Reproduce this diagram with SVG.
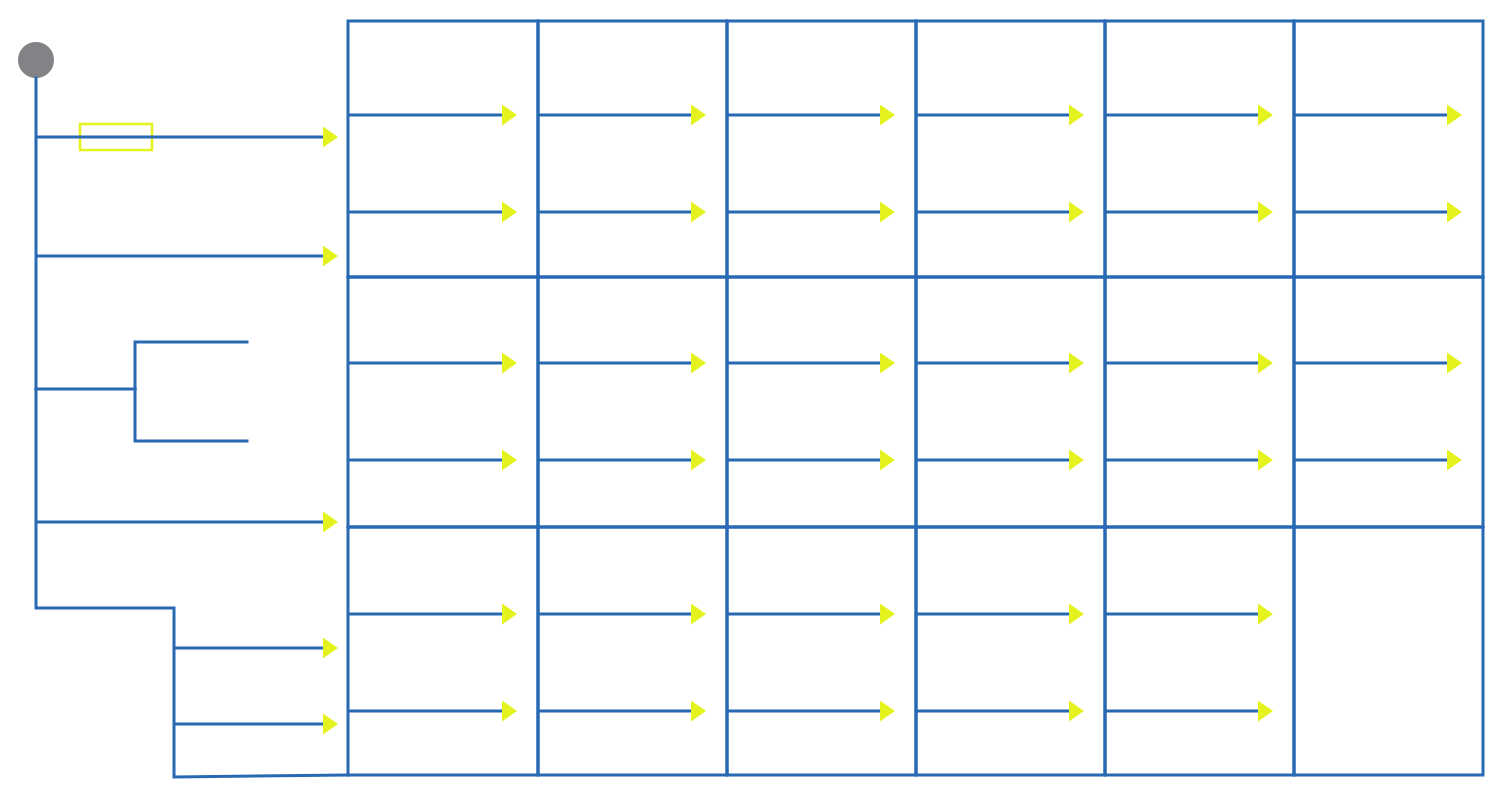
<svg xmlns="http://www.w3.org/2000/svg" width="1500" height="800" viewBox="0 0 1500 800">
<defs>
<style>
.ln{stroke:#2869B3;stroke-width:3;fill:none;stroke-linecap:square}
.cell{stroke:#2869B3;stroke-width:3;fill:none}
.arr{stroke:#2869B3;stroke-width:3;fill:none;marker-end:url(#ah)}
</style>
<marker id="ah" markerUnits="userSpaceOnUse" markerWidth="16" markerHeight="22" refX="0" refY="10.5" orient="auto" viewBox="0 0 16 22">
<path d="M0,0 L15,10.5 L0,21 z" fill="#E4F21E"/>
</marker>
</defs>
<rect width="1500" height="800" fill="#ffffff"/>
<g id="grid">
<g id="cell-r1c1"><rect class="cell" x="348" y="21" width="190" height="256"/></g>
<g id="cell-r1c2"><rect class="cell" x="538" y="21" width="189" height="256"/></g>
<g id="cell-r1c3"><rect class="cell" x="727" y="21" width="189" height="256"/></g>
<g id="cell-r1c4"><rect class="cell" x="916" y="21" width="189" height="256"/></g>
<g id="cell-r1c5"><rect class="cell" x="1105" y="21" width="189" height="256"/></g>
<g id="cell-r1c6"><rect class="cell" x="1294" y="21" width="189" height="256"/></g>
<g id="cell-r2c1"><rect class="cell" x="348" y="277" width="190" height="250"/></g>
<g id="cell-r2c2"><rect class="cell" x="538" y="277" width="189" height="250"/></g>
<g id="cell-r2c3"><rect class="cell" x="727" y="277" width="189" height="250"/></g>
<g id="cell-r2c4"><rect class="cell" x="916" y="277" width="189" height="250"/></g>
<g id="cell-r2c5"><rect class="cell" x="1105" y="277" width="189" height="250"/></g>
<g id="cell-r2c6"><rect class="cell" x="1294" y="277" width="189" height="250"/></g>
<g id="cell-r3c1"><rect class="cell" x="348" y="527" width="190" height="248"/></g>
<g id="cell-r3c2"><rect class="cell" x="538" y="527" width="189" height="248"/></g>
<g id="cell-r3c3"><rect class="cell" x="727" y="527" width="189" height="248"/></g>
<g id="cell-r3c4"><rect class="cell" x="916" y="527" width="189" height="248"/></g>
<g id="cell-r3c5"><rect class="cell" x="1105" y="527" width="189" height="248"/></g>
<g id="cell-r3c6"><rect class="cell" x="1294" y="527" width="189" height="248"/></g>
</g>
<g id="start"><circle cx="36" cy="60" r="18" fill="#838387"/></g>
<g id="label-box"><rect x="80" y="124" width="72" height="26" fill="none" stroke="#E4F21E" stroke-width="2.5"/></g>
<g id="connectors">
<path class="ln" d="M36,78 V608 H174 V777 L348,775"/>
<path class="arr" d="M36,137 H323"/>
<path class="arr" d="M36,256 H323"/>
<path class="ln" d="M36,389 H135"/>
<path class="ln" d="M247,342 H135 V441 H247"/>
<path class="arr" d="M36,522 H323"/>
<path class="arr" d="M174,648 H323"/>
<path class="arr" d="M174,724 H323"/>
<path class="arr" d="M348,115H502"/><path class="arr" d="M538,115H691"/><path class="arr" d="M727,115H880"/><path class="arr" d="M916,115H1069"/><path class="arr" d="M1105,115H1258"/><path class="arr" d="M1294,115H1447"/>
<path class="arr" d="M348,212H502"/><path class="arr" d="M538,212H691"/><path class="arr" d="M727,212H880"/><path class="arr" d="M916,212H1069"/><path class="arr" d="M1105,212H1258"/><path class="arr" d="M1294,212H1447"/>
<path class="arr" d="M348,363H502"/><path class="arr" d="M538,363H691"/><path class="arr" d="M727,363H880"/><path class="arr" d="M916,363H1069"/><path class="arr" d="M1105,363H1258"/><path class="arr" d="M1294,363H1447"/>
<path class="arr" d="M348,460H502"/><path class="arr" d="M538,460H691"/><path class="arr" d="M727,460H880"/><path class="arr" d="M916,460H1069"/><path class="arr" d="M1105,460H1258"/><path class="arr" d="M1294,460H1447"/>
<path class="arr" d="M348,614H502"/><path class="arr" d="M538,614H691"/><path class="arr" d="M727,614H880"/><path class="arr" d="M916,614H1069"/><path class="arr" d="M1105,614H1258"/>
<path class="arr" d="M348,711H502"/><path class="arr" d="M538,711H691"/><path class="arr" d="M727,711H880"/><path class="arr" d="M916,711H1069"/><path class="arr" d="M1105,711H1258"/>
</g>
</svg>
